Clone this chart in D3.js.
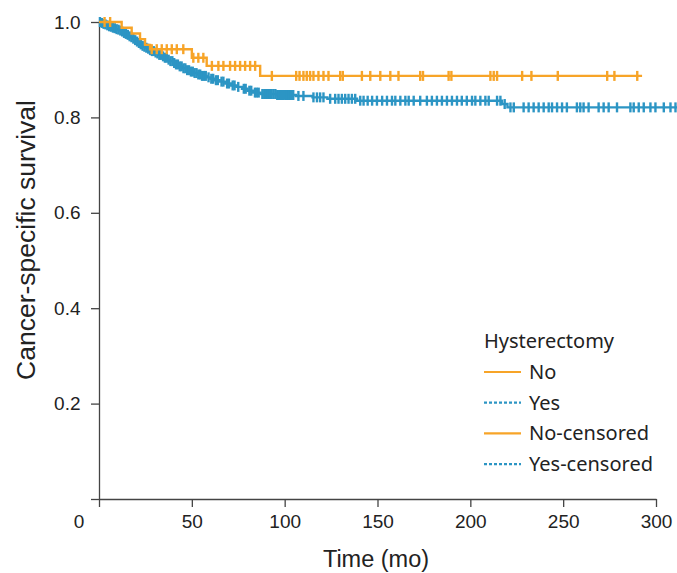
<!DOCTYPE html>
<html><head><meta charset="utf-8">
<script src="https://cdn.jsdelivr.net/npm/d3@7"></script>
<style>body{margin:0;background:#fff}svg{display:block}</style>
</head><body>
<svg id="c" width="677" height="573"></svg>
<script>
// ---- data ----
const xTicks = [0, 50, 100, 150, 200, 250, 300];
const yTicks = [0, 0.2, 0.4, 0.6, 0.8, 1.0];
const seriesNames = ["No", "Yes"];
const legendTitle = "Hysterectomy";
const legendLabels = ["No", "Yes", "No-censored", "Yes-censored"];

// Hysterectomy = No : event times and survival after each event
const noTimes = [0, 12.2, 17.6, 22.1, 24.8, 27.5, 50, 58, 86.8];
const noSurv  = [1.0, 0.988, 0.976, 0.964, 0.952, 0.943, 0.925, 0.908, 0.887];
const noEnd = 292.5;
const noCensor = [3, 6, 28.4, 31.1, 33.8, 36.5, 39.2, 41.9, 45.4, 50.8, 53.5, 56.2,
  60.8, 64.3, 67, 70.6, 73.3, 76, 78.7, 81.4, 84.1, 93.1,
  106.2, 108, 110.1, 111.9, 113.7, 115.5, 118.2, 120.9, 123.6, 129.9, 131.3, 141.6, 146.1,
  151.5, 156.9, 161.3, 173, 174.5, 188.3, 189.8, 210.8, 212.6, 214.4, 227.9, 232.9, 247.1,
  273.7, 277.6, 289.9];

// Hysterectomy = Yes
const yesTimes = [0, 1, 2, 3, 4, 5, 6, 7, 8, 9, 10, 11, 12, 13, 14, 15, 16, 17, 18, 19, 20,
  21, 22, 23, 24, 25, 26, 27, 28, 30, 31, 32, 34, 35, 37, 38, 40, 41, 43, 45, 47, 49, 51, 53,
  55, 58, 60, 62, 65, 68, 71, 74, 77, 80, 83, 87, 96, 106, 115, 123, 139, 217, 220];
const yesSurv = [1.0, 0.998, 0.996, 0.995, 0.993, 0.991, 0.990, 0.988, 0.987, 0.985, 0.984,
  0.982, 0.980, 0.977, 0.975, 0.973, 0.970, 0.968, 0.965, 0.962, 0.959, 0.956, 0.953, 0.950,
  0.948, 0.946, 0.944, 0.941, 0.939, 0.936, 0.934, 0.931, 0.928, 0.925, 0.921, 0.918, 0.914,
  0.911, 0.907, 0.903, 0.899, 0.896, 0.893, 0.890, 0.887, 0.884, 0.881, 0.878, 0.875, 0.871,
  0.867, 0.864, 0.860, 0.856, 0.852, 0.849, 0.847, 0.845, 0.842, 0.839, 0.835, 0.828, 0.821];
const yesEnd = 311.5;
const yesCensor = [0.5, 1.5, 2.5, 3.5, 4.5, 5.5, 6.5, 7.5, 8.5, 9.5, 10.5, 11.5, 12.5, 13.5,
  14.5, 15.5, 16.5, 17.5, 18.5, 19.5, 20.5, 21.5, 22.5, 23.5, 24.5, 25.5, 26.5, 27.5, 28.5,
  29.5, 30.5, 31.5, 32.5, 33.5, 34.5, 35.5, 36.5, 37.5, 38.5, 39.5, 40.5, 41.5, 42.5, 43.5,
  44.5, 45.5, 46.5, 47.5, 48.5, 49.5, 50.5, 51.5, 52.5, 53.5, 54.5, 55.5, 56.5, 57.5, 59,
  60.5, 61.5, 63, 64, 66, 67, 69, 70, 72, 73, 75, 78, 79, 81, 82, 84, 85, 86, 88, 89, 90, 91,
  92, 93, 94, 95, 96, 97, 98.1, 99.2, 100.3, 101.3, 102.4, 103.5, 104.6, 107.4, 110.1, 115.5,
  117.4, 119.1, 120.9, 124.5, 127.2, 129, 130.8, 132.6, 134.4, 136.2, 138, 140.7, 142.5,
  144.7, 147.1, 149.7, 152.5, 155.1, 157.8, 159.6, 162.3, 165, 166.8, 169.5, 173, 176.6,
  179.3, 182, 184.7, 187.4, 190.1, 192.8, 195.4, 198.1, 200.9, 202.7, 205.4, 208.1, 209.9,
  214.4, 216.2, 218.5, 221.6, 223.4, 228.7, 231.4, 234.1, 236.8, 239.5, 242.2, 244, 246.7,
  249.4, 252, 257.4, 259.2, 261, 263.7, 269.1, 271.8, 274.5, 279, 286.2, 288, 290.7, 293.4,
  297, 299.7, 304.2, 307.8, 310.5];

const colors = {No: "#F7A428", Yes: "#2C95C4"};

// ---- chart ----
const svg = d3.select("#c");
const x = d3.scaleLinear().domain([0, 300]).range([99, 656]);
const y = d3.scaleLinear().domain([0, 1]).range([499, 22]);
const tickFont = "'Liberation Sans', Arial, sans-serif";

// axes
const xAxis = svg.append("g").attr("transform", "translate(0,499)")
  .call(d3.axisBottom(x).tickValues(xTicks).tickSize(8).tickSizeOuter(0).tickFormat(d3.format("d")));
const yAxis = svg.append("g").attr("transform", "translate(99,0)")
  .call(d3.axisLeft(y).tickValues(yTicks).tickSize(8).tickSizeOuter(0)
    .tickFormat(d => d === 0 ? "" : d3.format(".1f")(d)));
[xAxis, yAxis].forEach(g => {
  g.selectAll("path,line").attr("stroke", "#444").attr("stroke-width", 1.3);
  g.selectAll("text").attr("fill", "#222").style("font-family", tickFont).style("font-size", "19px");
});
xAxis.selectAll("text").attr("y", 15.5);
xAxis.selectAll(".tick").filter(d => d === 0).select("text").attr("x", -20.5);
yAxis.selectAll("text").attr("x", -18.5);

// axis titles
svg.append("text").attr("x", 376).attr("y", 567).attr("text-anchor", "middle")
  .style("font-family", tickFont).style("font-size", "23.5px").attr("fill", "#222")
  .text("Time (mo)");
svg.append("text").attr("transform", "translate(35,240) rotate(-90)").attr("text-anchor", "middle")
  .style("font-family", tickFont).style("font-size", "26.5px").attr("fill", "#222")
  .text("Cancer-specific survival");

// KM step curves
function stepPoints(times, surv, end) {
  const pts = times.map((t, i) => [t, surv[i]]);
  pts.push([end, surv[surv.length - 1]]);
  return pts;
}
function survAt(times, surv, t) {
  let s = surv[0];
  for (let i = 0; i < times.length; i++) { if (times[i] <= t) s = surv[i]; }
  return s;
}
const line = d3.line().x(d => x(d[0])).y(d => y(d[1])).curve(d3.curveStepAfter);

const groups = [
  {name: "No", times: noTimes, surv: noSurv, end: noEnd, censor: noCensor},
  {name: "Yes", times: yesTimes, surv: yesSurv, end: yesEnd, censor: yesCensor}
];
groups.slice().reverse().forEach(g => {
  const gg = svg.append("g");
  gg.append("path").datum(stepPoints(g.times, g.surv, g.end))
    .attr("d", line).attr("fill", "none").attr("stroke", colors[g.name]).attr("stroke-width", 2.4);
  gg.selectAll("line.cens").data(g.censor).enter().append("line")
    .attr("x1", d => x(d)).attr("x2", d => x(d))
    .attr("y1", d => y(survAt(g.times, g.surv, d)) - 5)
    .attr("y2", d => y(survAt(g.times, g.surv, d)) + 5)
    .attr("stroke", colors[g.name]).attr("stroke-width", 2.4);
});

// legend
const legFont = "'Noto Sans', sans-serif";
const lg = svg.append("g").attr("transform", "translate(484,0)");
lg.append("text").attr("x", 0).attr("y", 348).text(legendTitle)
  .style("font-family", legFont).style("font-size", "20px").attr("fill", "#222");
const legendColors = [colors.No, colors.Yes, colors.No, colors.Yes];
const legendDash = [null, "3,2", null, "3,2"];
legendLabels.forEach((lab, i) => {
  const yy = 372 + i * 30.7;
  lg.append("line").attr("x1", 0).attr("x2", 37).attr("y1", yy).attr("y2", yy)
    .attr("stroke", legendColors[i]).attr("stroke-width", 2.2).attr("stroke-dasharray", legendDash[i]);
  lg.append("text").attr("x", 45).attr("y", yy + 7).text(lab)
    .style("font-family", legFont).style("font-size", "20px").attr("fill", "#222");
});
</script>
</body></html>
